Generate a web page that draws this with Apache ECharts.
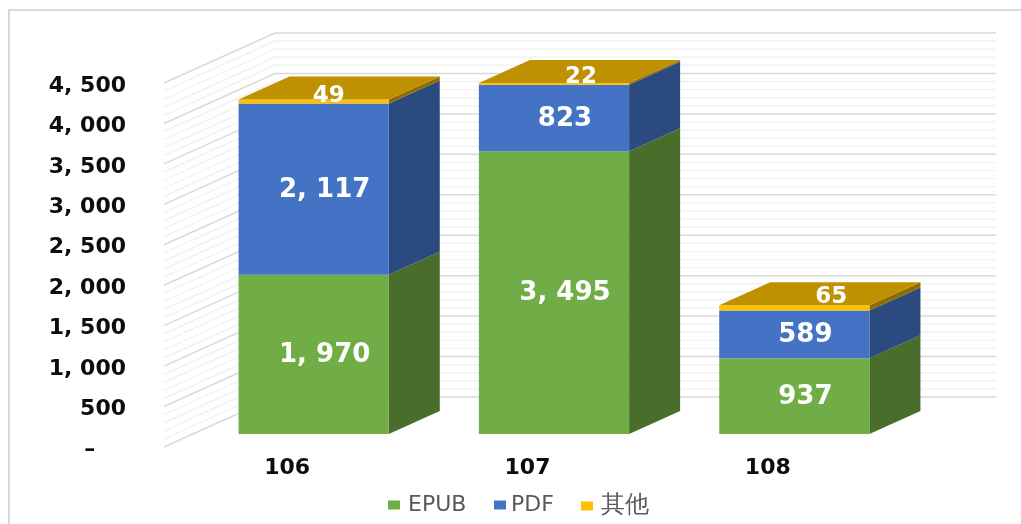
<!DOCTYPE html>
<html>
<head>
<meta charset="utf-8">
<style>
    html, body { margin: 0; padding: 0; background: #fff; }
    #chart { width: 1021px; height: 524px; }
</style>
<script src="https://cdn.jsdelivr.net/npm/echarts@6/dist/echarts.min.js"></script>
</head>
<body>
<div id="chart"></div>
<script>
var categories = ['106', '107', '108'];
var epub = [1970, 3495, 937];
var pdf = [2117, 823, 589];
var other = [49, 22, 65];
var yMax = 4500;
var yStep = 500;
var minorStep = 100;

// 立体效果的偏移量
var wallDx = 111, wallDy = -50;   // 背墙相对前沿
var barDx = 29.5, barDy = -13;    // 柱子正面相对前沿
var depthDx = 51, depthDy = -23;  // 柱子厚度
var otherLabelShift = [[15, -5], [27, -7], [37, -11]]; // 其他 的标签落在顶面上

var fontName = '"DejaVu Sans", sans-serif';

function fmt(v) {
    return String(v).replace(/\B(?=(\d{3})+$)/g, ', ');
}

function poly(points, color) {
    return {type: 'polygon', shape: {points: points}, style: {fill: color}};
}

// 累加成 [类目, 起点, 终点, 数值]
function stackRows(values, below) {
    return values.map(function (v, i) {
        var base = 0;
        below.forEach(function (arr) { base += arr[i]; });
        return [i, base, base + v, v];
    });
}

function barSeries(name, rows, front, side, top, showTop) {
    return {
        name: name,
        type: 'custom',
        coordinateSystem: 'cartesian2d',
        itemStyle: {color: front},
        encode: {x: 0, y: [1, 2]},
        data: rows,
        clip: false,
        z: 5,
        renderItem: function (params, api) {
            var i = api.value(0);
            var w = api.size([1, 0])[0] * 0.625;
            var low = api.coord([i, api.value(1)]);
            var high = api.coord([i, api.value(2)]);
            var x0 = low[0] - w / 2 + barDx, x1 = x0 + w;
            var y0 = low[1] + barDy, y1 = high[1] + barDy;
            var children = [
                poly([[x1, y0], [x1 + depthDx, y0 + depthDy], [x1 + depthDx, y1 + depthDy], [x1, y1]], side),
                poly([[x0, y0], [x1, y0], [x1, y1], [x0, y1]], front)
            ];
            if (showTop) {
                children.push(poly([[x0, y1], [x1, y1], [x1 + depthDx, y1 + depthDy], [x0 + depthDx, y1 + depthDy]], top));
            }
            var shift = showTop ? otherLabelShift[i] : [11, 1];
            children.push({
                type: 'text',
                style: {
                    x: (x0 + x1) / 2 + shift[0],
                    y: (y0 + y1) / 2 + shift[1],
                    text: fmt(api.value(3)),
                    fill: '#fff',
                    font: 'bold ' + (showTop ? 23 : 26) + 'px ' + fontName,
                    align: 'center',
                    verticalAlign: 'middle'
                }
            });
            return {type: 'group', children: children};
        }
    };
}

function legendItem(name, left, gap) {
    return {
        data: [name],
        left: left,
        top: 494,
        padding: 0,
        icon: 'rect',
        itemWidth: 12,
        itemHeight: 9,
        textStyle: {color: '#595959', fontSize: name === '其他' ? 24 : 22, fontFamily: fontName, padding: [0, 0, 0, gap]}
    };
}

var wallTicks = [];
for (var t = 0; t <= yMax; t += minorStep) {
    wallTicks.push(t);
}

var myChart = echarts.init(document.getElementById('chart'));

var option = {
    animation: false,
    backgroundColor: '#fff',
    graphic: [{
        type: 'rect',
        shape: {x: 9, y: 10, width: 1100, height: 600},
        style: {fill: 'none', stroke: '#D9D9D9', lineWidth: 2},
        silent: true,
        z: 0
    }],
    grid: {left: 164, top: 83, width: 721, height: 364},
    legend: [legendItem('EPUB', 388, 3), legendItem('PDF', 494, 0), legendItem('其他', 581, 3)],
    xAxis: {
        type: 'category',
        data: categories,
        axisLine: {show: false},
        axisTick: {show: false},
        axisLabel: {
            color: '#0D0D0D',
            fontSize: 22,
            fontWeight: 'bold',
            fontFamily: fontName,
            margin: 10,
            padding: [0, 0, 0, 6]
        }
    },
    yAxis: {
        type: 'value',
        min: 0,
        max: yMax,
        interval: yStep,
        axisLine: {show: false},
        axisTick: {show: false},
        splitLine: {show: false},
        axisLabel: {
            color: '#0D0D0D',
            fontSize: 22,
            fontWeight: 'bold',
            fontFamily: fontName,
            margin: 38,
            verticalAlign: 'top',
            lineHeight: 6,
            formatter: function (v) {
                return v === 0 ? '–    ' : fmt(v);
            }
        }
    },
    series: [
        {
            type: 'custom',
            coordinateSystem: 'cartesian2d',
            silent: true,
            clip: false,
            z: 1,
            encode: {y: 0},
            data: wallTicks.map(function (v) { return [v]; }),
            renderItem: function (params, api) {
                var v = api.value(0);
                var p = api.coord([0, v]);
                var left = params.coordSys.x;
                var right = left + params.coordSys.width;
                var color = v % yStep === 0 ? '#D9D9D9' : '#F2F2F2';
                return {
                    type: 'group',
                    children: [{
                        type: 'polyline',
                        shape: {points: [[left, p[1]], [left + wallDx, p[1] + wallDy], [right + wallDx, p[1] + wallDy]]},
                        style: {fill: 'none', stroke: color, lineWidth: 1.5}
                    }]
                };
            }
        },
        barSeries('EPUB', stackRows(epub, []), '#70AD47', '#4A6D2C', null, false),
        barSeries('PDF', stackRows(pdf, [epub]), '#4472C4', '#2A4A80', null, false),
        barSeries('其他', stackRows(other, [epub, pdf]), '#FFC000', '#8F6C00', '#BF9000', true)
    ]
};

myChart.setOption(option);
</script>
</body>
</html>
